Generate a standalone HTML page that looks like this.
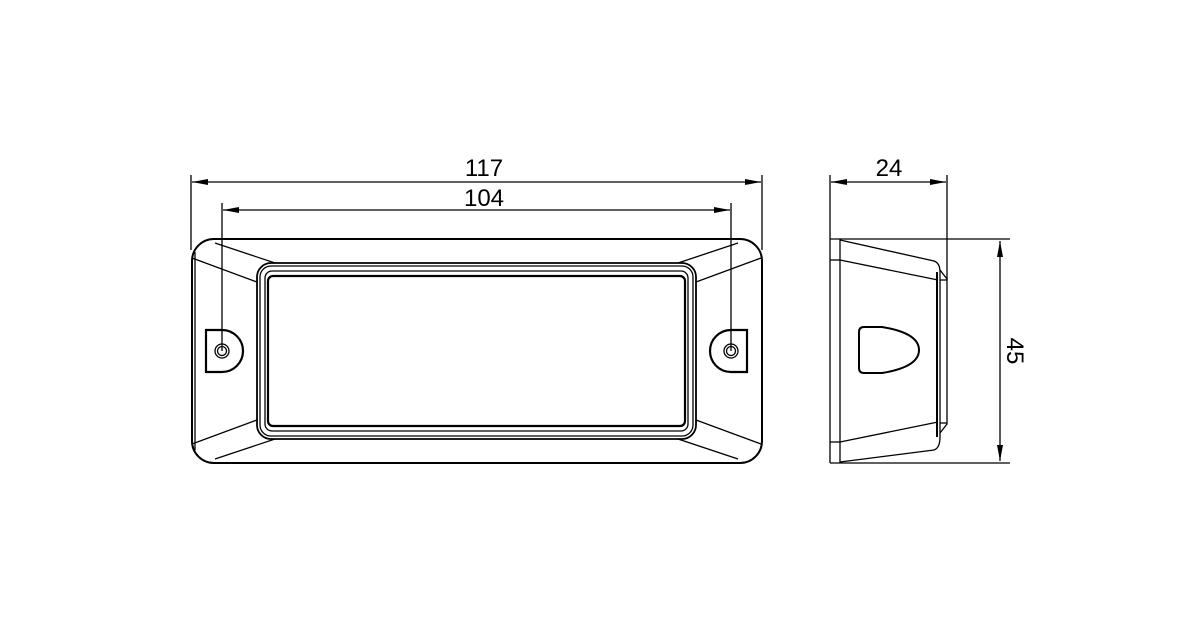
<!DOCTYPE html>
<html><head><style>
html,body{margin:0;padding:0;background:#fff;}
svg{display:block;}
text{font-family:"Liberation Sans",sans-serif;font-size:24px;fill:#000;}
</style></head><body>
<svg width="1200" height="638" viewBox="0 0 1200 638" xmlns="http://www.w3.org/2000/svg">
<defs>
<marker id="a" viewBox="0 0 16 6" refX="16" refY="3" markerWidth="16" markerHeight="6" orient="auto-start-reverse" markerUnits="userSpaceOnUse"><path d="M0,0 L16,3 L0,6 z" fill="#000"/></marker>
</defs>
<g fill="none" stroke="#000" stroke-width="1.3">
<!-- dimensions front -->
<line x1="191" y1="175" x2="191" y2="250"/>
<line x1="762" y1="175" x2="762" y2="250"/>
<line x1="192" y1="182" x2="761" y2="182" marker-start="url(#a)" marker-end="url(#a)"/>
<line x1="222" y1="203" x2="222" y2="351"/>
<line x1="731" y1="203" x2="731" y2="351"/>
<line x1="223" y1="210" x2="730" y2="210" marker-start="url(#a)" marker-end="url(#a)"/>
<!-- outer body -->
<rect x="192" y="239" width="570" height="224" rx="22" stroke-width="2"/>
<line x1="195" y1="252" x2="195" y2="450"/>
<!-- diagonals -->
<line x1="215" y1="243" x2="275" y2="263"/>
<line x1="192" y1="258" x2="257" y2="282"/>
<line x1="738" y1="243" x2="678" y2="263"/>
<line x1="761" y1="258" x2="696" y2="282"/>
<line x1="215" y1="459" x2="275" y2="439"/>
<line x1="192" y1="444" x2="257" y2="420"/>
<line x1="738" y1="459" x2="678" y2="439"/>
<line x1="761" y1="444" x2="696" y2="420"/>
<!-- frame -->
<rect x="257" y="263" width="439" height="176" rx="14" stroke-width="1.8"/>
<rect x="260" y="266" width="433" height="170" rx="11"/>
<rect x="265" y="271" width="423" height="160" rx="7"/>
<rect x="268" y="276" width="417" height="150" rx="5" stroke-width="2.2"/>
<!-- holes -->
<path d="M206,330 h16 a21,21 0 0 1 0,42 h-16 z" stroke-width="2.2"/>
<circle cx="222" cy="351" r="7"/>
<circle cx="222" cy="351" r="4.5"/>
<path d="M747,330 h-16 a21,21 0 0 0 0,42 h16 z" stroke-width="2.2"/>
<circle cx="731" cy="351" r="7"/>
<circle cx="731" cy="351" r="4.5"/>
<!-- side view dims -->
<line x1="830" y1="175" x2="830" y2="463"/>
<line x1="947" y1="175" x2="947" y2="280"/>
<line x1="831" y1="182" x2="946" y2="182" marker-start="url(#a)" marker-end="url(#a)"/>
<line x1="830" y1="239" x2="1010" y2="239"/>
<line x1="830" y1="463" x2="1010" y2="463"/>
<line x1="1000" y1="241" x2="1000" y2="461" marker-start="url(#a)" marker-end="url(#a)"/>
<!-- side body -->
<line x1="840" y1="239" x2="840" y2="463"/>
<line x1="830" y1="260" x2="840" y2="260"/>
<line x1="830" y1="442" x2="840" y2="442"/>
<path d="M840,240 L934,261 Q940,263 940,272 L940,437 Q940,448 934,450 L840,462"/>
<line x1="840" y1="260" x2="938" y2="280"/>
<line x1="840" y1="442" x2="938" y2="422"/>
<line x1="937" y1="272" x2="937" y2="437" stroke-width="2"/>
<path d="M940,270 L947,279 L947,424 L940,433"/>
<line x1="940" y1="280" x2="947" y2="280"/>
<line x1="940" y1="423" x2="947" y2="423"/>
<path d="M864,327 h18 q37,6 37,23 q0,17 -37,23 h-18 q-5,0 -5,-5 v-36 q0,-5 5,-5 z" stroke-width="2"/>
</g>
<text x="484" y="176" text-anchor="middle">117</text>
<text x="484" y="206" text-anchor="middle">104</text>
<text x="889" y="176" text-anchor="middle">24</text>
<text transform="translate(1007,351) rotate(90)" text-anchor="middle">45</text>
</svg>
</body></html>
